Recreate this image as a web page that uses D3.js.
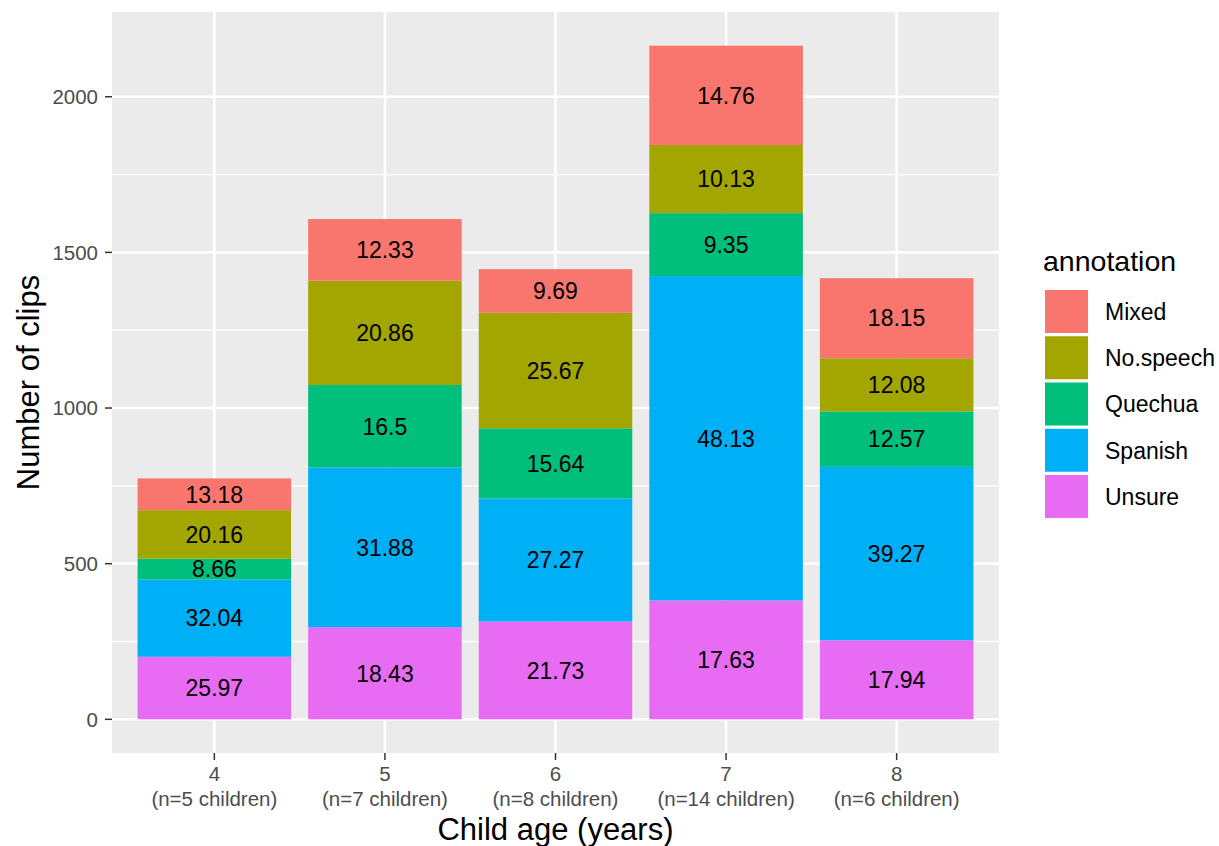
<!DOCTYPE html>
<html><head><meta charset="utf-8">
<script src="https://cdn.jsdelivr.net/npm/d3@7"></script>
<style>body{margin:0;background:#fff}svg{display:block}text{font-family:"Liberation Sans",Arial,sans-serif}</style>
</head><body><svg id="c" width="1219" height="846"></svg>
<script>
const ages = ["4","5","6","7","8"];
const nLabels = ["(n=5 children)","(n=7 children)","(n=8 children)","(n=14 children)","(n=6 children)"];
const annotations = ["Mixed","No.speech","Quechua","Spanish","Unsure"];
const colors = ["#F8766D","#A3A500","#00BF7D","#00B0F6","#E76BF3"];
// counts (number of clips) per annotation, for ages 4..8
const unsureCounts   = [201, 296, 314, 382, 254];
const spanishCounts  = [248, 513, 395, 1042, 557];
const quechuaCounts  = [67, 265, 226, 202, 178];
const noSpeechCounts = [156, 335, 371, 219, 171];
const mixedCounts    = [102, 198, 140, 319, 257];
// percentage labels
const unsurePct   = ["25.97","18.43","21.73","17.63","17.94"];
const spanishPct  = ["32.04","31.88","27.27","48.13","39.27"];
const quechuaPct  = ["8.66","16.5","15.64","9.35","12.57"];
const noSpeechPct = ["20.16","20.86","25.67","10.13","12.08"];
const mixedPct    = ["13.18","12.33","9.69","14.76","18.15"];
const yTicks = [0,500,1000,1500,2000];
const yMinor = [250,750,1250,1750];

const countsBy = {Mixed:mixedCounts,"No.speech":noSpeechCounts,Quechua:quechuaCounts,Spanish:spanishCounts,Unsure:unsureCounts};
const pctBy = {Mixed:mixedPct,"No.speech":noSpeechPct,Quechua:quechuaPct,Spanish:spanishPct,Unsure:unsurePct};

const svg = d3.select("#c");
const P = {l:112, r:999, t:12, b:753};
const rows = ages.map((a,i)=>{const o={age:a}; annotations.forEach(k=>o[k]=countsBy[k][i]); return o;});
const stackKeys = annotations.slice().reverse();
const series = d3.stack().keys(stackKeys)(rows);
const maxTot = d3.max(rows, r=>d3.sum(annotations, k=>r[k]));
const y = d3.scaleLinear().domain([-0.05*maxTot, maxTot*1.05]).range([P.b, P.t]);
const x = d3.scaleBand().domain(ages).range([P.l, P.r]).paddingInner(0).paddingOuter(0.1);
const cx = d => x(d) + x.bandwidth()/2;
const bw = x.bandwidth()*0.9;
const color = d3.scaleOrdinal().domain(annotations).range(colors);

svg.append("rect").attr("x",P.l).attr("y",P.t).attr("width",P.r-P.l).attr("height",P.b-P.t).attr("fill","#EBEBEB");
const g = svg.append("g");
g.selectAll(".mn").data(yMinor).join("line").attr("x1",P.l).attr("x2",P.r)
 .attr("y1",d=>y(d)).attr("y2",d=>y(d)).attr("stroke","#fff").attr("stroke-width",1.3);
g.selectAll(".mj").data(yTicks).join("line").attr("x1",P.l).attr("x2",P.r)
 .attr("y1",d=>y(d)).attr("y2",d=>y(d)).attr("stroke","#fff").attr("stroke-width",2.6);
g.selectAll(".vx").data(ages).join("line").attr("y1",P.t).attr("y2",P.b)
 .attr("x1",cx).attr("x2",cx).attr("stroke","#fff").attr("stroke-width",2.6);

series.forEach(s=>{
  svg.append("g").selectAll("rect").data(s).join("rect")
    .attr("x",d=>cx(d.data.age)-bw/2).attr("width",bw)
    .attr("y",d=>y(d[1])).attr("height",d=>y(d[0])-y(d[1]))
    .attr("fill",color(s.key));
});
series.forEach(s=>{
  svg.append("g").selectAll("text").data(s).join("text")
    .attr("x",d=>cx(d.data.age)).attr("y",d=>(y(d[0])+y(d[1]))/2)
    .attr("dy","0.36em").attr("text-anchor","middle").attr("font-size",23).attr("fill","#000")
    .text((d,i)=>pctBy[s.key][i]);
});

const ya = svg.append("g");
ya.selectAll("line").data(yTicks).join("line").attr("x1",P.l-7).attr("x2",P.l).attr("y1",d=>y(d)).attr("y2",d=>y(d)).attr("stroke","#333").attr("stroke-width",1.5);
ya.selectAll("text").data(yTicks).join("text").attr("x",P.l-14).attr("y",d=>y(d)).attr("dy","0.36em")
 .attr("text-anchor","end").attr("font-size",20.5).attr("fill","#4D4D4D").text(d=>d);
const xa = svg.append("g");
xa.selectAll("line").data(ages).join("line").attr("x1",cx).attr("x2",cx)
 .attr("y1",P.b).attr("y2",P.b+7).attr("stroke","#333").attr("stroke-width",1.5);
xa.selectAll("text.a").data(ages).join("text").attr("class","a").attr("x",cx).attr("y",774).attr("dy","0.36em")
 .attr("text-anchor","middle").attr("font-size",20.5).attr("fill","#4D4D4D").text(d=>d);
xa.selectAll("text.n").data(ages).join("text").attr("class","n").attr("x",cx).attr("y",799).attr("dy","0.36em")
 .attr("text-anchor","middle").attr("font-size",20.5).attr("fill","#4D4D4D").text((d,i)=>nLabels[i]);
svg.append("text").attr("x",(P.l+P.r)/2).attr("y",829).attr("dy","0.36em").attr("text-anchor","middle")
 .attr("font-size",31).attr("fill","#000").text("Child age (years)");
svg.append("text").attr("transform",`translate(28,${(P.t+P.b)/2}) rotate(-90)`).attr("dy","0.36em").attr("text-anchor","middle")
 .attr("font-size",31).attr("fill","#000").text("Number of clips");

const lg = svg.append("g");
lg.append("text").attr("x",1043).attr("y",271).attr("font-size",28.5).attr("fill","#000").text("annotation");
annotations.forEach((k,i)=>{
  const top = 290 + i*46.25;
  lg.append("rect").attr("x",1045).attr("y",top).attr("width",43).attr("height",43).attr("fill",color(k));
  lg.append("text").attr("x",1105).attr("y",top+21.5).attr("dy","0.36em").attr("font-size",23).attr("fill","#000").text(k);
});
</script></body></html>
